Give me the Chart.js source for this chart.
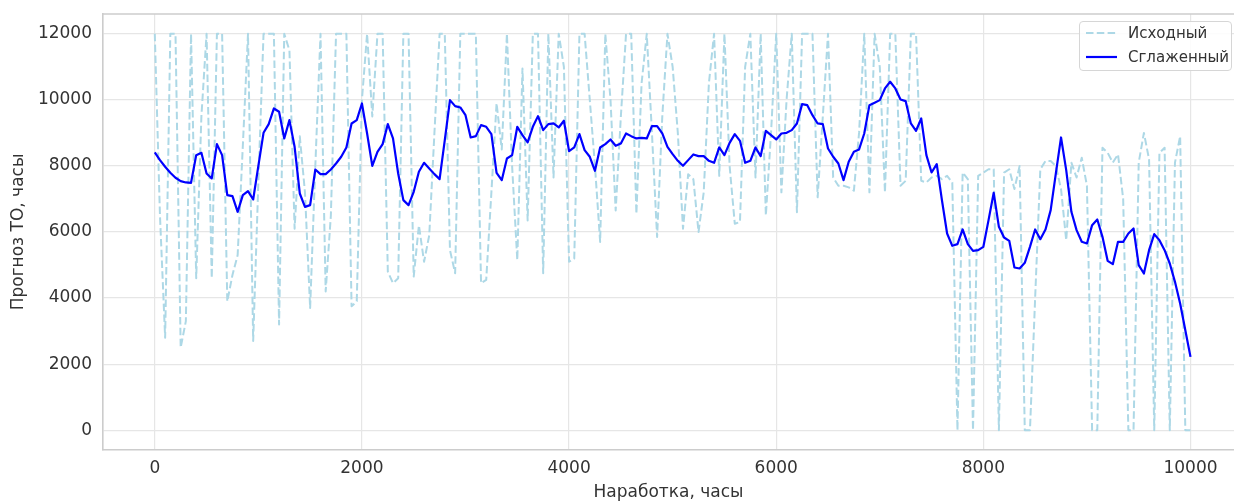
<!DOCTYPE html>
<html>
<head>
<meta charset="utf-8">
<title>Прогноз ТО</title>
<script src="https://cdn.jsdelivr.net/npm/chart.js@4.4.0/dist/chart.umd.min.js"></script>
<style>
    html, body { margin: 0; padding: 0; overflow: hidden; background: #fff; }
    #wrap { position: relative; width: 1234px; height: 501px; }
    #legend {
        position: absolute; left: 1079px; top: 21px; width: 151px; height: 48px;
        border: 1px solid #d6d6d6; border-radius: 4px; background: rgba(255, 255, 255, 0.85);
        font: 15px 'DejaVu Sans', sans-serif; color: #333;
    }
    #legend svg { position: absolute; left: 6px; }
    #legend span { position: absolute; left: 48px; line-height: 18px; white-space: nowrap; }
</style>
</head>
<body>
<div id="wrap">
    <canvas id="chart" width="1234" height="501"></canvas>
    <div id="legend">
        <svg style="top:8px" width="32" height="6"><line x1="0" y1="3" x2="31" y2="3" stroke="#add8e6" stroke-width="2" stroke-dasharray="7.5 3.3"/></svg>
        <span style="top:2px">Исходный</span>
        <svg style="top:32px" width="32" height="6"><line x1="0" y1="3" x2="31" y2="3" stroke="#0000ff" stroke-width="2.2"/></svg>
        <span style="top:26px">Сглаженный</span>
    </div>
</div>
<script>
// наработка, часы
var hours = [
    0, 50, 100, 150, 200, 250, 300, 350, 400, 450, 500, 550, 600, 650, 700, 750, 800, 850, 900, 950,
    1000, 1050, 1100, 1150, 1200, 1250, 1300, 1350, 1400, 1450, 1500, 1550, 1600, 1650, 1700, 1750, 1800, 1850, 1900, 1950,
    2000, 2050, 2100, 2150, 2200, 2250, 2300, 2350, 2400, 2450, 2500, 2550, 2600, 2650, 2700, 2750, 2800, 2850, 2900, 2950,
    3000, 3050, 3100, 3150, 3200, 3250, 3300, 3350, 3400, 3450, 3500, 3550, 3600, 3650, 3700, 3750, 3800, 3850, 3900, 3950,
    4000, 4050, 4100, 4150, 4200, 4250, 4300, 4350, 4400, 4450, 4500, 4550, 4600, 4650, 4700, 4750, 4800, 4850, 4900, 4950,
    5000, 5050, 5100, 5150, 5200, 5250, 5300, 5350, 5400, 5450, 5500, 5550, 5600, 5650, 5700, 5750, 5800, 5850, 5900, 5950,
    6000, 6050, 6100, 6150, 6200, 6250, 6300, 6350, 6400, 6450, 6500, 6550, 6600, 6650, 6700, 6750, 6800, 6850, 6900, 6950,
    7000, 7050, 7100, 7150, 7200, 7250, 7300, 7350, 7400, 7450, 7500, 7550, 7600, 7650, 7700, 7750, 7800, 7850, 7900, 7950,
    8000, 8050, 8100, 8150, 8200, 8250, 8300, 8350, 8400, 8450, 8500, 8550, 8600, 8650, 8700, 8750, 8800, 8850, 8900, 8950,
    9000, 9050, 9100, 9150, 9200, 9250, 9300, 9350, 9400, 9450, 9500, 9550, 9600, 9650, 9700, 9750, 9800, 9850, 9900, 9950,
    10000
];

// исходный прогноз
var original = [
    12000, 6500, 2800, 12000, 12000, 2500, 3300, 12000, 4600, 9500,
    12000, 4600, 12000, 12000, 3900, 4700, 5300, 8600, 12000, 2700,
    7500, 12000, 12000, 12000, 3200, 12000, 11500, 6100, 8900, 7200,
    3700, 8000, 12000, 4200, 6500, 12000, 12000, 12000, 3750, 3900,
    10000, 12000, 9500, 12000, 12000, 4800, 4450, 4600, 12000, 12000,
    4650, 6200, 5100, 5900, 9000, 12000, 12000, 5450, 4750, 12000,
    12000, 12000, 12000, 4450, 4550, 7200, 9900, 8500, 12000, 8000,
    5150, 10950, 6350, 12000, 12000, 4750, 12000, 7650, 12000, 11000,
    5100, 5200, 12000, 12000, 10000, 8000, 5700, 12000, 10000, 6650,
    9500, 12000, 12000, 6550, 10500, 12000, 9000, 5850, 9500, 12000,
    11000, 9000, 6100, 7750, 7600, 6000, 7200, 10500, 12000, 7700,
    12000, 8000, 6250, 6300, 11000, 12000, 7650, 12000, 6500, 9000,
    12000, 7200, 10000, 12000, 6600, 12000, 12000, 12000, 7050, 9500,
    12000, 7650, 7400, 7400, 7350, 7250, 9000, 12000, 7200, 12000,
    11000, 7200, 12000, 12000, 7400, 7550, 12000, 12000, 7550, 7500,
    7650, 7700, 7600, 7700, 7500, 0, 7800, 7600, 0, 7700,
    7800, 7900, 7900, 0, 7800, 7900, 7300, 8000, 0, 0,
    4000, 7900, 8150, 8150, 8000, 7300, 5750, 8100, 7650, 8250,
    7400, 0, 0, 8550, 8400, 8100, 8350, 7000, 0, 0,
    8100, 9000, 8200, 0, 8400, 8550, 0, 8100, 8900, 0,
    0
];

// сглаженный прогноз
var smoothed = [
    8409, 8176, 7974, 7792, 7641, 7540, 7500, 7490, 8327, 8398,
    7772, 7621, 8660, 8327, 7116, 7086, 6611, 7116, 7237, 6985,
    8000, 9003, 9266, 9740, 9640, 8832, 9387, 8579, 7166, 6762,
    6813, 7893, 7752, 7752, 7893, 8075, 8277, 8560, 9286, 9387,
    9891, 8983, 8004, 8428, 8660, 9266, 8832, 7772, 6964, 6813,
    7217, 7823, 8095, 7924, 7752, 7600, 8781, 9992, 9811, 9771,
    9538, 8862, 8902, 9235, 9185, 8963, 7792, 7570, 8226, 8327,
    9185, 8933, 8711, 9185, 9508, 9084, 9266, 9286, 9165, 9367,
    8448, 8559, 8963, 8478, 8277, 7853, 8559, 8660, 8802, 8610,
    8680, 8983, 8902, 8832, 8850, 8832, 9205, 9205, 8983, 8579,
    8357, 8155, 8004, 8176, 8347, 8297, 8297, 8155, 8095, 8559,
    8327, 8700, 8963, 8761, 8095, 8155, 8559, 8297, 9064, 8933,
    8802, 8983, 9003, 9084, 9286, 9871, 9841, 9538, 9286, 9266,
    8529, 8277, 8075, 7570, 8125, 8428, 8499, 8983, 9841, 9912,
    9992, 10346, 10548, 10346, 10013, 9962, 9286, 9064, 9437, 8327,
    7802, 8055, 6964, 5955, 5582, 5632, 6076, 5632, 5430, 5450,
    5551, 6359, 7186, 6157, 5834, 5733, 4925, 4895, 5066, 5551,
    6076, 5783, 6076, 6662, 7772, 8862, 7873, 6611, 6056, 5703,
    5652, 6207, 6379, 5854, 5127, 5026, 5703, 5703, 5955, 6106,
    4996, 4744, 5450, 5935, 5753, 5450, 5046, 4491, 3835, 3028,
    2220
];

var xTicks = [0, 2000, 4000, 6000, 8000, 10000];
var xTickLabels = ['0', '2000', '4000', '6000', '8000', '10000'];
var yTicks = [0, 2000, 4000, 6000, 8000, 10000, 12000];
var yTickLabels = ['0', '2000', '4000', '6000', '8000', '10000', '12000'];

(function() {
    'use strict';

    var ctx = document.getElementById('chart');
    var fontFamily = "'DejaVu Sans', sans-serif";
    var textColor = '#333333';
    var gridColor = '#e6e6e6';
    var spineColor = '#cccccc';

    var toPoints = function(values) {
        return hours.map(function(h, i) {
            return {x: h, y: values[i]};
        });
    };

    //chart.js draws only the left and bottom borders, the top one is added here
    var topSpine = {
        id: 'topSpine',
        afterDraw: function(chart) {
            var area = chart.chartArea;
            var c = chart.ctx;
            c.save();
            c.strokeStyle = spineColor;
            c.lineWidth = 1.6;
            c.beginPath();
            c.moveTo(area.left, area.top);
            c.lineTo(area.right, area.top);
            c.stroke();
            c.restore();
        }
    };

    new Chart(ctx, {
        type: 'line',
        data: {
            datasets: [{
                label: 'Сглаженный',
                data: toPoints(smoothed),
                borderColor: '#0000ff',
                borderWidth: 2.2
            },
            {
                label: 'Исходный',
                data: toPoints(original),
                borderColor: '#add8e6',
                borderWidth: 2,
                borderDash: [7.5, 3.3]
            }]
        },
        options: {
            responsive: false,
            animation: false,
            devicePixelRatio: 1,
            layout: { padding: { top: 14, left: 0, right: 0, bottom: 0 } },
            elements: {
                point: { radius: 0, hoverRadius: 0 },
                line: { tension: 0, borderJoinStyle: 'round', fill: false }
            },
            plugins: {
                legend: { display: false },
                tooltip: { enabled: false }
            },
            scales: {
                x: {
                    type: 'linear',
                    min: -500,
                    max: 10420,
                    afterBuildTicks: function(scale) {
                        scale.ticks = xTicks.map(function(v) { return {value: v}; });
                    },
                    afterFit: function(scale) {
                        scale.height = 51;
                        scale.paddingLeft = 0;
                        scale.paddingRight = 0;
                    },
                    grid: { color: gridColor, lineWidth: 1.2, drawTicks: false },
                    border: { display: true, color: spineColor, width: 1.6 },
                    ticks: {
                        padding: 8,
                        maxRotation: 0,
                        color: textColor,
                        font: { family: fontFamily, size: 17 },
                        callback: function(value, index) { return xTickLabels[index]; }
                    },
                    title: {
                        display: true,
                        text: 'Наработка, часы',
                        color: textColor,
                        font: { family: fontFamily, size: 17 },
                        padding: { top: 0, bottom: -2 }
                    }
                },
                y: {
                    type: 'linear',
                    min: -600,
                    max: 12600,
                    afterBuildTicks: function(scale) {
                        scale.ticks = yTicks.map(function(v) { return {value: v}; });
                    },
                    afterFit: function(scale) {
                        scale.width = 103;
                        scale.paddingTop = 0;
                        scale.paddingBottom = 0;
                    },
                    grid: { color: gridColor, lineWidth: 1.2, drawTicks: false },
                    border: { display: true, color: spineColor, width: 1.6 },
                    ticks: {
                        padding: 11,
                        color: textColor,
                        font: { family: fontFamily, size: 17 },
                        callback: function(value, index) { return yTickLabels[index]; }
                    },
                    title: {
                        display: true,
                        text: 'Прогноз ТО, часы',
                        color: textColor,
                        font: { family: fontFamily, size: 17 },
                        padding: { top: 8, bottom: 0 }
                    }
                }
            }
        },
        plugins: [topSpine]
    });
})();
</script>
</body>
</html>
